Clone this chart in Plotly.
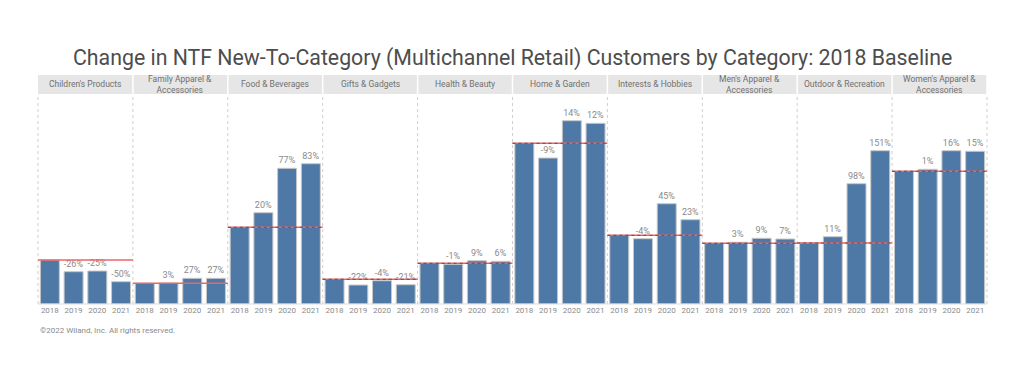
import plotly.graph_objects as go
from plotly.subplots import make_subplots

categories = ["Children's Products", "Family Apparel &<br>Accessories", "Food & Beverages",
              "Gifts & Gadgets", "Health & Beauty", "Home & Garden", "Interests & Hobbies",
              "Men's Apparel &<br>Accessories", "Outdoor & Recreation", "Women's Apparel &<br>Accessories"]
years = ["2018", "2019", "2020", "2021"]

# NTF customers (relative units)
v_children = [44.0, 32.3, 33.0, 22.3]
v_family = [20.7, 21.0, 25.7, 25.7]
v_food = [76.7, 91.3, 135.7, 140.3]
v_gifts = [24.7, 19.0, 23.3, 19.3]
v_health = [40.7, 39.7, 43.3, 42.7]
v_home = [160.7, 146.0, 183.3, 180.7]
v_interests = [68.7, 65.3, 100.3, 84.3]
v_mens = [60.7, 61.7, 65.7, 65.0]
v_outdoor = [61.0, 67.3, 120.3, 153.3]
v_womens = [132.7, 134.7, 153.3, 152.7]

l_children = ["", "-26%", "-25%", "-50%"]
l_family = ["", "3%", "27%", "27%"]
l_food = ["", "20%", "77%", "83%"]
l_gifts = ["", "-22%", "-4%", "-21%"]
l_health = ["", "-1%", "9%", "6%"]
l_home = ["", "-9%", "14%", "12%"]
l_interests = ["", "-4%", "45%", "23%"]
l_mens = ["", "3%", "9%", "7%"]
l_outdoor = ["", "11%", "98%", "151%"]
l_womens = ["", "1%", "16%", "15%"]

values = [v_children, v_family, v_food, v_gifts, v_health, v_home, v_interests, v_mens, v_outdoor, v_womens]
labels = [l_children, l_family, l_food, l_gifts, l_health, l_home, l_interests, l_mens, l_outdoor, l_womens]

n = len(categories)
fig = make_subplots(rows=1, cols=n, shared_yaxes=True, horizontal_spacing=0)

YMAX = 210
for i in range(n):
    fig.add_trace(go.Bar(
        x=years, y=values[i], text=labels[i], textposition="outside", constraintext="none",
        textfont=dict(size=9, color="#8a8a8a", family="Roboto"),
        marker=dict(color="#4e79a7", line=dict(color="#c8c8c8", width=1)),
        cliponaxis=False, showlegend=False, hoverinfo="x+y"), row=1, col=i + 1)
    xa = "x" if i == 0 else f"x{i+1}"
    ya = "y" if i == 0 else f"y{i+1}"
    base = values[i][0]
    fig.add_shape(type="line", xref=f"{xa} domain", yref=ya, x0=0, x1=1, y0=base, y1=base,
                  line=dict(color="#e8666a", width=1.5), layer="above")
    if i >= 2:
        fig.add_shape(type="line", xref=f"{xa} domain", yref=ya, x0=0, x1=1, y0=base, y1=base,
                      line=dict(color="#555555", width=1, dash="dot"), layer="above")
    # panel border (right side)
    fig.add_shape(type="line", xref=f"{xa} domain", yref="paper", x0=1, x1=1, y0=0, y1=1,
                  line=dict(color="#cfcfcf", width=1, dash="dot"), layer="below")
    if i == 0:
        fig.add_shape(type="line", xref=f"{xa} domain", yref="paper", x0=0, x1=0, y0=0, y1=1,
                      line=dict(color="#cfcfcf", width=1, dash="dot"), layer="below")
    # header band
    fig.add_shape(type="rect", xref=f"{xa} domain", yref="paper", x0=0, x1=1, y0=1, y1=1 + 19 / 210,
                  fillcolor="#e6e6e6", line=dict(width=0), layer="below")
    fig.add_shape(type="line", xref=f"{xa} domain", yref="paper", x0=1, x1=1, y0=1, y1=1 + 19 / 210,
                  line=dict(color="#ffffff", width=1.5))
    fig.add_annotation(xref=f"{xa} domain", yref="paper", x=0.5, y=1 + 9.5 / 210,
                       text=categories[i], showarrow=False, yanchor="middle",
                       font=dict(size=8.5, color="#707070", family="Roboto"))

fig.update_xaxes(type="category", showgrid=False, zeroline=False, showline=False,
                 tickfont=dict(size=8, color="#8a8a8a", family="Roboto"), ticks="")
fig.update_yaxes(range=[0, YMAX], showgrid=False, zeroline=False, showticklabels=False, showline=False)
fig.add_shape(type="line", xref="paper", yref="paper", x0=0, x1=1, y0=0, y1=0,
              line=dict(color="#dddddd", width=1))

fig.add_annotation(xref="paper", yref="paper", x=0.5, y=1 + 36 / 210, yanchor="middle",
                   text="Change in NTF New-To-Category (Multichannel Retail) Customers by Category: 2018 Baseline",
                   showarrow=False, font=dict(size=21.3, color="#4d4d4d", family="Roboto"))
fig.add_annotation(xref="paper", yref="paper", x=0, xanchor="left", y=-26 / 210, yanchor="middle",
                   text="©2022 Wiland, Inc. All rights reserved.", showarrow=False,
                   font=dict(size=8, color="#8a8a8a", family="Roboto"))

fig.update_layout(width=1024, height=365, margin=dict(l=30, r=45, t=86, b=69),
                  paper_bgcolor="white", plot_bgcolor="white", bargap=0.2)
fig.write_html("out.html")
